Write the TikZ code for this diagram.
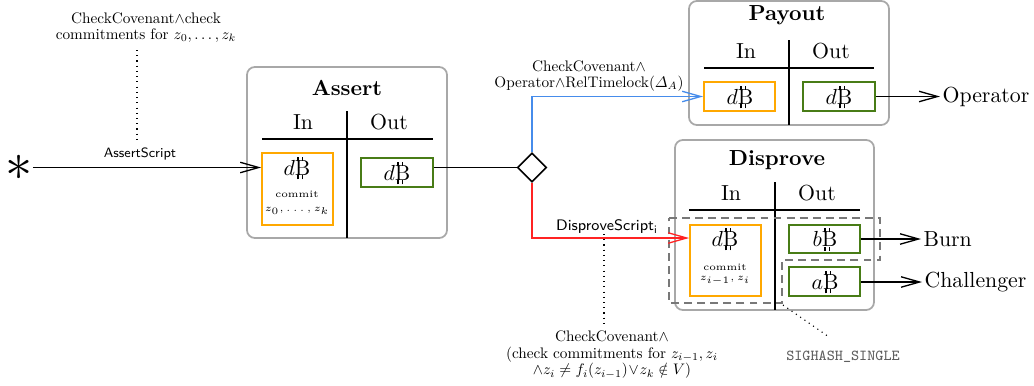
\documentclass[tikz,border=0pt]{standalone}
\usepackage{amsmath,amssymb}
\usepackage{graphicx}
\usetikzlibrary{arrows.meta,shapes.geometric,fit}

\definecolor{boxgray}{RGB}{168,168,168}
\definecolor{inorange}{RGB}{255,168,0}
\definecolor{outgreen}{RGB}{72,124,22}
\definecolor{payblue}{RGB}{70,140,235}
\definecolor{dispred}{RGB}{255,35,35}
\definecolor{hashgray}{RGB}{95,95,95}
\definecolor{regiongray}{RGB}{120,120,120}

% Bitcoin sign: a B with two short strokes above and below
\newcommand{\btcsym}{%
  \rlap{\hspace{0.95pt}\rule[6.6pt]{0.7pt}{2.0pt}\hspace{1.5pt}\rule[6.6pt]{0.7pt}{2.0pt}}%
  \rlap{\hspace{0.95pt}\rule[-1.9pt]{0.7pt}{2.0pt}\hspace{1.5pt}\rule[-1.9pt]{0.7pt}{2.0pt}}%
  B}
\newcommand{\coin}[1]{$#1$\btcsym}
% small centred condition texts
\newcommand{\condtext}[1]{\scalebox{0.7}{\renewcommand{\arraystretch}{0.9}\begin{tabular}{@{}c@{}}#1\end{tabular}}}
\newcommand{\smalltag}[1]{\scalebox{0.9}{\tiny #1}}

\begin{document}
\begin{tikzpicture}[x=0.4587pt,y=-0.4587pt,
  txbox/.style={draw=boxgray, line width=0.8pt, rounded corners=3.6pt, inner sep=0pt},
  inbox/.style={draw=inorange, line width=0.8pt, inner sep=0pt},
  outbox/.style={draw=outgreen, line width=0.8pt, inner sep=0pt},
  ttl/.style={font=\bfseries, inner sep=0pt},
  hdr/.style={inner sep=0pt},
  tabline/.style={line width=0.75pt},
  flow/.style={line width=0.6pt, -{Straight Barb[length=8.5pt,width=4.8pt,line width=0.6pt]}},
  note/.style={inner sep=1pt},
  commit/.style={inner sep=0pt},
  scriptlbl/.style={font=\sffamily\scriptsize, inner sep=1pt},
  guide/.style={line width=0.5pt, dash pattern=on 0.5pt off 1.9pt},
  sigregion/.style={draw=regiongray, line width=0.7pt, dash pattern=on 3.6pt off 2.4pt},
  endlbl/.style={anchor=west, inner sep=1pt}]

\useasboundingbox (0,0) rectangle (1034,385);

% ---------- Assert transaction ----------
\node[txbox, fit={(247,67)(447,238)}] (assert) {};
\node[ttl] (assertT) at (347,88) {Assert};
\node[hdr] (assertIn) at (303,122) {In};
\node[hdr] (assertOut) at (389,122) {Out};
\draw[tabline] (262,139) -- (433,139);
\draw[tabline] (347,111) -- (347,238);
\node[inbox, fit={(262,153)(333,225)}] (assertInBox) {};
\node (assertInCoin) at (297,168) {\coin{d}};
\node[commit] (assertCommit) at (297,194) {\smalltag{commit}};
\node[commit] (assertZ) at (297,211) {\smalltag{$z_0,\ldots,z_k$}};
\node[outbox, fit={(361,158)(433,187)}] (assertOutBox) {};
\node (assertOutCoin) at (397,173) {\coin{d}};

% ---------- entry into Assert ----------
\node[inner sep=0pt] (start) at (19,167.5) {\Huge$\ast$};
\draw[flow] (start) -- (start -| assertInBox.west);
\node[scriptlbl, font=\sffamily\fontsize{6.2}{7}\selectfont] (assertScript) at (140,154) {AssertScript};
\node[note] (assertCond) at (146,28) {\condtext{CheckCovenant$\wedge$check\\commitments for $z_0,\ldots,z_k$}};
\coordinate (assertGuideTop) at (137,50);
\coordinate (assertGuideBot) at (137,141);
\draw[guide] (assertGuideTop) -- (assertGuideBot);

% ---------- Payout transaction ----------
\node[txbox, fit={(689,1)(889,125)}] (payout) {};
\node[ttl] (payoutT) at (787,15) {Payout};
\node[hdr] (payoutIn) at (746,51) {In};
\node[hdr] (payoutOut) at (831,51) {Out};
\draw[tabline] (704,68) -- (874,68);
\draw[tabline] (789,40) -- (789,125);
\node[inbox, fit={(704,82)(775,111)}] (payInBox) {};
\node (payInCoin) at (740,97) {\coin{d}};
\node[outbox, fit={(803,82)(875,111)}] (payOutBox) {};
\node (payOutCoin) at (839,97) {\coin{d}};
\node[endlbl] (operator) at (940,96.5) {Operator};
\draw[flow] (payOutBox.east |- operator) -- (operator.west);

% ---------- Disprove transaction ----------
\node[txbox, fit={(675,140)(874,310)}] (disprove) {};
\node[ttl] (disproveT) at (777,160) {Disprove};
\node[hdr] (disproveIn) at (731,193) {In};
\node[hdr] (disproveOut) at (817,193) {Out};
\draw[tabline] (689,210) -- (860,210);
\draw[tabline] (775,182) -- (775,310);
\node[inbox, fit={(690,225)(761,296)}] (disInBox) {};
\node (disInCoin) at (725,239) {\coin{d}};
\node[commit] (disCommit) at (725,267) {\smalltag{commit}};
\node[commit] (disZ) at (725,281) {\smalltag{$z_{i-1},z_i$}};
\node[outbox, fit={(789,225)(860,253)}] (burnBox) {};
\node (burnCoin) at (825,239.5) {\coin{b}};
\node[outbox, fit={(789,267)(860,296)}] (chalBox) {};
\node (chalCoin) at (825,282) {\coin{a}};
\node[endlbl] (burn) at (921,239) {Burn};
\node[endlbl] (challenger) at (922,282) {Challenger};
\draw[flow] (burnBox.east |- burn) -- (burn.west);
\draw[flow] (chalBox.east |- challenger) -- (challenger.west);

% inputs/outputs signed with SIGHASH_SINGLE
\draw[sigregion] (669,218) -- (880,218) -- (880,260) -- (782,260) -- (782,303) -- (669,303) -- cycle;
\coordinate (sigCorner) at (783,305);
\node[font=\scriptsize\ttfamily, text=hashgray, inner sep=1pt] (sighash) at (843,357) {SIGHASH\_SINGLE};
\coordinate (sigGuideEnd) at (829,337);
\draw[guide] (sigCorner) -- (sigGuideEnd);

% ---------- branching after Assert ----------
\node[diamond, draw, fill=white, line width=0.7pt, inner sep=0pt,
      minimum width=13.4pt, minimum height=13.4pt] (split) at (532,167.5) {};
\draw[line width=0.6pt] (assertOutBox.east |- split) -- (split.west);
\draw[flow, payblue] (split.north) |- (payInBox.west);
\draw[flow, dispred] (split.south) |- (disInBox.west |- 0,238);

\node[note] (payCond) at (589,76) {\condtext{CheckCovenant$\wedge$\\Operator$\wedge$RelTimelock$(\varDelta_A)$}};
\node[scriptlbl] (disScript) at (607,227) {DisproveScript$_{\mathsf{i}}$};
\coordinate (disGuideTop) at (604,234);
\coordinate (disGuideBot) at (604,324);
\draw[guide] (disGuideTop) -- (disGuideBot);
\node[note] (disCond) at (612,355) {\condtext{CheckCovenant$\wedge$\\(check commitments for $z_{i-1},z_i$\\$\wedge z_i\neq f_i(z_{i-1})\!\vee\! z_k\notin V)$}};

\end{tikzpicture}
\end{document}
